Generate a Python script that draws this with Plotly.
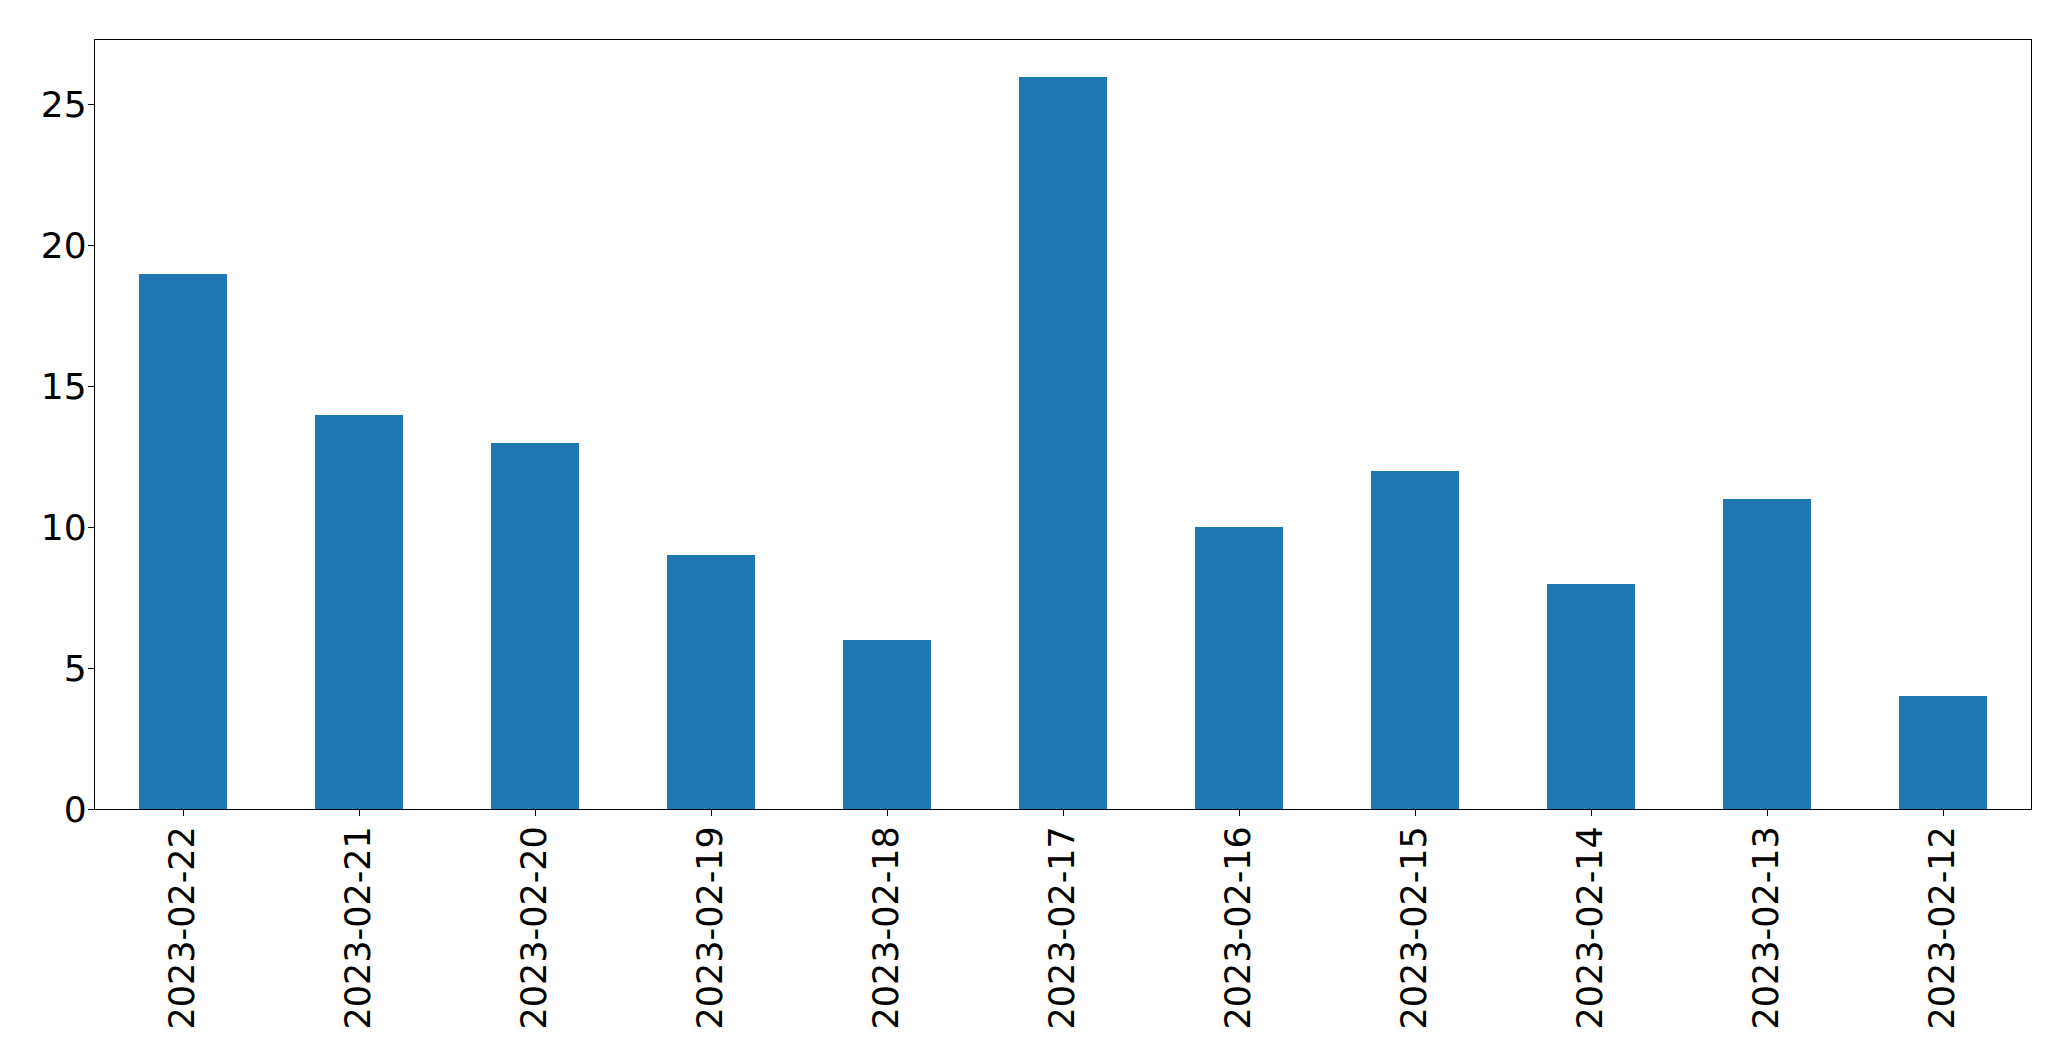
import plotly.graph_objects as go

dates = ["2023-02-22", "2023-02-21", "2023-02-20", "2023-02-19", "2023-02-18",
         "2023-02-17", "2023-02-16", "2023-02-15", "2023-02-14", "2023-02-13", "2023-02-12"]
counts = [19, 14, 13, 9, 6, 26, 10, 12, 8, 11, 4]

fig = go.Figure(go.Bar(x=dates, y=counts, width=0.5, marker=dict(color="#1f77b4", line=dict(width=0))))

fig.update_layout(
    width=2071, height=1061,
    margin=dict(l=94.5, r=39.5, t=39.5, b=252),
    plot_bgcolor="white", paper_bgcolor="white",
    font=dict(family="DejaVu Sans", size=36, color="black"),
    showlegend=False,
    bargap=0,
)
fig.update_xaxes(
    type="category", range=[-0.5, 10.5],
    showline=True, linecolor="black", linewidth=1.3, mirror=True,
    ticks="outside", ticklen=6, tickwidth=1.3, tickcolor="black",
    tickangle=-90, showgrid=False, zeroline=False, ticklabelstandoff=-4,
    tickfont=dict(size=35),
)
fig.update_yaxes(
    range=[0, 27.3], tickvals=[0, 5, 10, 15, 20, 25],
    showline=True, linecolor="black", linewidth=1.3, mirror=True,
    ticks="outside", ticklen=6, tickwidth=1.3, tickcolor="black",
    showgrid=False, zeroline=False, ticklabelstandoff=-6,
)

fig.write_html("out.html")
